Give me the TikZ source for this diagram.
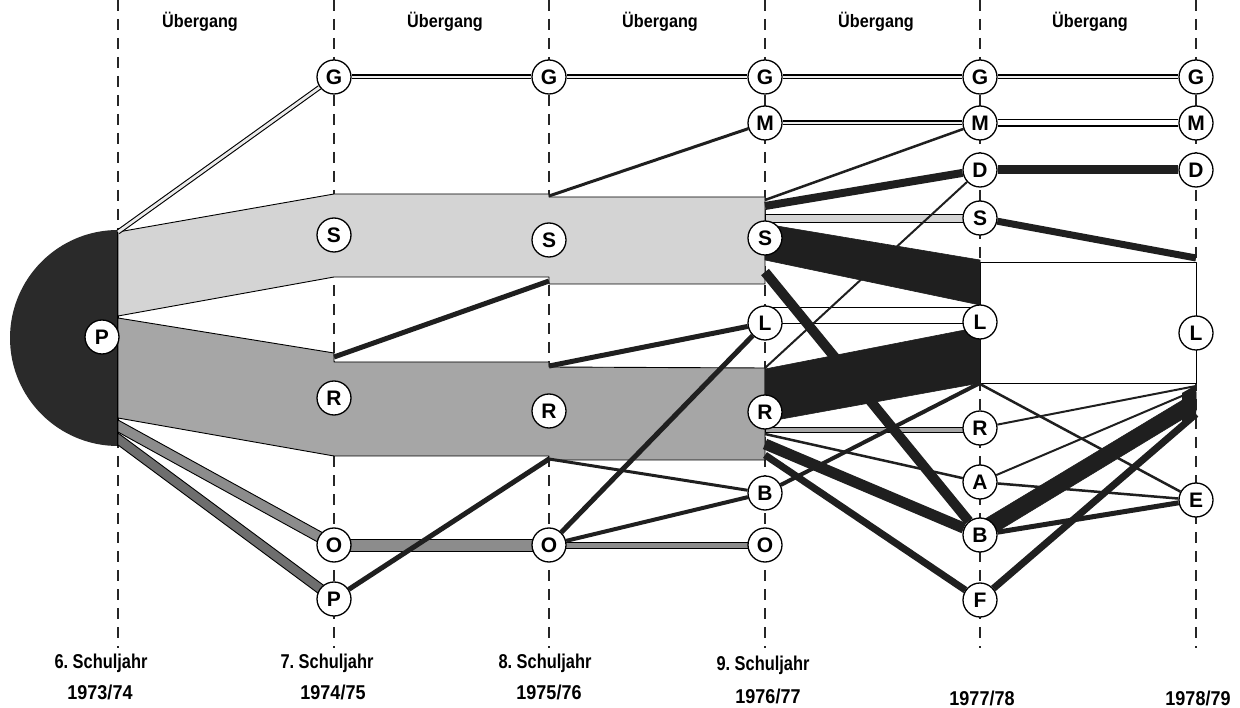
\documentclass[tikz,border=0pt]{standalone}
\usepackage{fontspec}
\setmainfont{Liberation Sans}
\definecolor{sband}{HTML}{D4D4D4}
\definecolor{rband}{HTML}{A6A6A6}
\definecolor{oband}{HTML}{8C8C8C}
\definecolor{pband}{HTML}{6E6E6E}
\definecolor{ink}{HTML}{1F1F1F}
\definecolor{diskc}{HTML}{2A2A2A}
\newcommand{\narrowtext}[2]{\scalebox{#1}[1]{#2}}
\pgfdeclarelayer{grid}
\pgfdeclarelayer{flows}
\pgfsetlayers{grid,flows,main}
\begin{document}
\begin{tikzpicture}[x=1pt,y=-1pt,
  colline/.style={dash pattern=on 11pt off 8pt, line width=1.1pt, draw=black!85},
  st/.style={circle, draw, line width=1.3pt, fill=white, minimum size=34pt, inner sep=0pt,
    font=\bfseries\fontsize{21}{21}\selectfont},
  band/.style={draw=black, line width=0.9pt, line join=round},
  darkband/.style={fill=ink, draw=ink, line width=0.6pt, line join=round},
  link/.style={draw=ink, line width=#1},
  gline/.style={draw=black, line width=1.1pt, double=gray!15, double distance=2.8pt},
  mline/.style={draw=black, line width=1.1pt, double=white, double distance=5pt},
  head/.style={font=\bfseries\fontsize{18}{18}\selectfont},
  lab/.style={font=\bfseries\fontsize{20}{20}\selectfont}]
\useasboundingbox (0,0) rectangle (1240,708);

% ---- school-type nodes per year ----
\node[st] (P0) at (102,337) {P};
\node[st] (G1) at (334,77) {G};
\node[st] (S1) at (334,235) {S};
\node[st] (R1) at (334,398) {R};
\node[st] (O1) at (334,545) {O};
\node[st] (P1) at (334,599) {P};
\node[st] (G2) at (549,77) {G};
\node[st] (S2) at (549,240) {S};
\node[st] (R2) at (549,411) {R};
\node[st] (O2) at (549,545) {O};
\node[st] (G3) at (765,77) {G};
\node[st] (M3) at (765,123) {M};
\node[st] (S3) at (765,238) {S};
\node[st] (L3) at (765,323) {L};
\node[st] (R3) at (765,412) {R};
\node[st] (B3) at (765,493) {B};
\node[st] (O3) at (765,545) {O};
\node[st] (G4) at (980,77) {G};
\node[st] (M4) at (980,123) {M};
\node[st] (D4) at (980,170) {D};
\node[st] (S4) at (980,218) {S};
\node[st] (L4) at (980,322) {L};
\node[st] (R4) at (980,428) {R};
\node[st] (A4) at (980,482) {A};
\node[st] (B4) at (980,535) {B};
\node[st] (F4) at (980,600) {F};
\node[st] (G5) at (1196,77) {G};
\node[st] (M5) at (1196,123) {M};
\node[st] (D5) at (1196,170) {D};
\node[st] (L5) at (1196,333) {L};
\node[st] (E5) at (1196,500) {E};

% ---- headings and year labels ----
\node[head] (u1) at (200,22) {\narrowtext{0.9}{Übergang}};
\node[head] (u2) at (445,22) {\narrowtext{0.9}{Übergang}};
\node[head] (u3) at (660,22) {\narrowtext{0.9}{Übergang}};
\node[head] (u4) at (876,22) {\narrowtext{0.9}{Übergang}};
\node[head] (u5) at (1090,22) {\narrowtext{0.9}{Übergang}};
\node[lab] (k6) at (101,663) {\narrowtext{0.82}{6.\ Schuljahr}};
\node[lab] (k7) at (327,663) {\narrowtext{0.82}{7.\ Schuljahr}};
\node[lab] (k8) at (545,663) {\narrowtext{0.82}{8.\ Schuljahr}};
\node[lab] (k9) at (763,665) {\narrowtext{0.82}{9.\ Schuljahr}};
\node[lab] (y1) at (100,692) {\narrowtext{0.9}{1973/74}};
\node[lab] (y2) at (333,692) {\narrowtext{0.9}{1974/75}};
\node[lab] (y3) at (549,692) {\narrowtext{0.9}{1975/76}};
\node[lab] (y4) at (768,696) {\narrowtext{0.9}{1976/77}};
\node[lab] (y5) at (982,698) {\narrowtext{0.9}{1977/78}};
\node[lab] (y6) at (1198,698) {\narrowtext{0.9}{1978/79}};

% ---- ports on band edges ----
\coordinate (p0top) at (118,232);
\coordinate (r1top) at (334,357);
\coordinate (s2bot) at (549,281);
\coordinate (s2top) at (549,196);
\coordinate (r2top) at (549,366);
\coordinate (r2bot) at (549,459);
\coordinate (s3m) at (765,200);
\coordinate (s3d) at (765,206);
\coordinate (s3b) at (765,272);
\coordinate (r3top) at (765,368);
\coordinate (r3a) at (765,434);
\coordinate (r3b) at (765,444);
\coordinate (r3f) at (765,455);
\coordinate (l4bot) at (980,383);
\coordinate (l4e) at (980,384);
\coordinate (l5s) at (1196,258);
\coordinate (l5r) at (1196,386);
\coordinate (l5a) at (1196,390);
\coordinate (l5f) at (1196,414);

% ---- year columns ----
\begin{pgfonlayer}{grid}
\foreach \x in {118,334,549,765,980,1196}
  \draw[colline] (\x,0) -- (\x,648);
\end{pgfonlayer}

\begin{pgfonlayer}{flows}
% primary school half disc
\begin{scope}
  \clip (0,200) rectangle (118,480);
  \fill[diskc] (118,338) circle[radius=108pt];
\end{scope}
\draw[line width=1.2pt] (118,230) -- (118,446);

% broad bands from year 6
\filldraw[band, fill=sband] (118,232) -- (334,194) -- (549,194) -- (549,197) -- (765,197)
  -- (765,284) -- (549,284) -- (549,277) -- (334,277) -- (118,316) -- cycle;
\filldraw[band, fill=rband] (118,318) -- (334,353) -- (334,362) -- (549,362) -- (549,367)
  -- (765,368) -- (765,460) -- (549,460) -- (549,456) -- (334,456) -- (118,418) -- cycle;
\filldraw[band, fill=oband] (118,420) -- (334,539) -- (334,551) -- (118,432) -- cycle;
\filldraw[band, fill=pband] (118,433) -- (334,593) -- (334,605) -- (118,445) -- cycle;
\filldraw[band, fill=oband] (334,539) rectangle (549,551);
\filldraw[band, fill=oband] (549,542) rectangle (765,548);

% grammar school and middle school streams
\draw[gline] (p0top) -- (G1);
\draw[gline] (G1) -- (G2);
\draw[gline] (G2) -- (G3);
\draw[gline] (G3) -- (G4);
\draw[gline] (G4) -- (G5);
\draw[gline] (M3) -- (M4);
\draw[mline] (M4) -- (M5);

% transitions 7 -> 8 -> 9
\draw[link=5pt] (r1top) -- (s2bot);
\draw[link=5pt] (P1) -- (r2bot);
\draw[link=3pt] (s2top) -- (M3);
\draw[link=5pt] (r2top) -- (L3);
\draw[link=3pt] (r2bot) -- (B3);
\draw[link=5pt] (O2) -- (L3);
\draw[link=4pt] (O2) -- (B3);

% transitions 9 -> 10
\filldraw[band, fill=white] (980,262) rectangle (1196,383);
\filldraw[band, fill=white] (765,307) rectangle (980,323);
\filldraw[band, fill=sband] (765,214) rectangle (980,222);
\filldraw[band, fill=rband] (765,427) rectangle (980,432);
\draw[link=2.5pt] (s3m) -- (M4);
\draw[link=8pt] (s3d) -- (D4);
\filldraw[darkband] (765,224) -- (980,260) -- (980,305) -- (765,260) -- cycle;
\filldraw[darkband] (765,369) -- (980,327) -- (980,383) -- (765,422) -- cycle;
\draw[link=2pt] (r3top) -- (D4);
\draw[link=2.5pt] (r3a) -- (A4);
\draw[link=4pt] (B3) -- (l4bot);
\draw[link=10pt] (s3b) -- (B4);
\draw[link=11pt] (r3b) -- (B4);
\draw[link=7pt] (r3f) -- (F4);

% transitions 10 -> 11
\draw[link=9pt] (D4) -- (D5);
\draw[link=7pt] (S4) -- (l5s);
\draw[link=2pt] (R4) -- (l5r);
\draw[link=2pt] (A4) -- (l5a);
\filldraw[darkband] (980,522) -- (1196,392) -- (1196,411) -- (980,542) -- cycle;
\draw[link=7pt] (F4) -- (l5f);
\fill[ink] (1196,385) -- (1196,418) -- (1182,427) -- (1182,393) -- cycle;
\draw[link=2.5pt] (l4e) -- (E5);
\draw[link=2.5pt] (A4) -- (E5);
\draw[link=5pt] (B4) -- (E5);
\end{pgfonlayer}
\end{tikzpicture}
\end{document}
